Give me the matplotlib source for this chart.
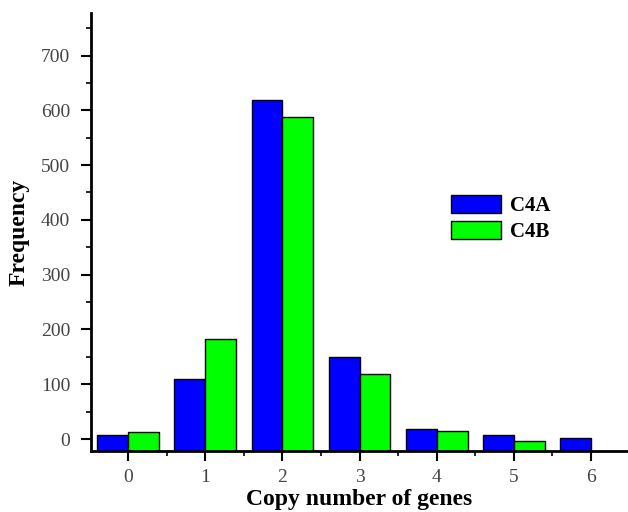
import numpy as np
import matplotlib
matplotlib.use("Agg")
from matplotlib import pyplot as plt
from matplotlib.ticker import MultipleLocator

copy_numbers = [0, 1, 2, 3, 4, 5, 6]
c4a = [8, 110, 618, 150, 19, 7, 1]
c4b = [13, 183, 587, 119, 14, -3, None]

YMIN, YMAX = -22, 778
WIDTH = 0.4

plt.rcParams["font.family"] = ["Liberation Serif", "DejaVu Serif"]

fig = plt.figure(figsize=(6.28, 5.12), dpi=100)
ax = fig.add_axes([0.145, 0.119, 0.855, 0.856])

x = np.array(copy_numbers, dtype=float)
a_vals = np.array(c4a, dtype=float)
b_x = np.array([xi for xi, v in zip(copy_numbers, c4b) if v is not None], dtype=float)
b_vals = np.array([v for v in c4b if v is not None], dtype=float)

# bars start at the bottom of the axis, like the original
ax.bar(x - WIDTH / 2, a_vals - YMIN, bottom=YMIN, width=WIDTH, color="#0000ff",
       edgecolor="black", linewidth=1, label="C4A")
ax.bar(b_x + WIDTH / 2, b_vals - YMIN, bottom=YMIN, width=WIDTH,
       color="#00ff00", edgecolor="black", linewidth=1, label="C4B")

ax.set_xlim(-0.48, 6.48)
ax.set_ylim(YMIN, YMAX)
ax.set_xticks(copy_numbers)
ax.xaxis.set_minor_locator(MultipleLocator(0.5))
ax.set_yticks(range(0, 800, 100))
ax.yaxis.set_minor_locator(MultipleLocator(50))

for side in ["top", "right"]:
    ax.spines[side].set_visible(False)
for side in ["left", "bottom"]:
    ax.spines[side].set_linewidth(2)

ax.tick_params(which="major", length=7, width=1.5, labelsize=14, labelcolor="#444444", pad=6)
ax.tick_params(axis="y", which="major", pad=8)
ax.tick_params(which="minor", length=3.5, width=1.2)

ax.set_xlabel("Copy number of genes", fontsize=17, fontweight="bold", labelpad=2)
ax.set_ylabel("Frequency", fontsize=17, fontweight="bold", labelpad=8)

leg = ax.legend(loc="upper left", bbox_to_anchor=(0.643, 0.618), frameon=False,
                prop={"weight": "bold", "size": 15}, handlelength=2.4,
                handleheight=1.0, handletextpad=0.45, labelspacing=0.22,
                borderpad=0.2)

fig.savefig("out.png", dpi=100)
